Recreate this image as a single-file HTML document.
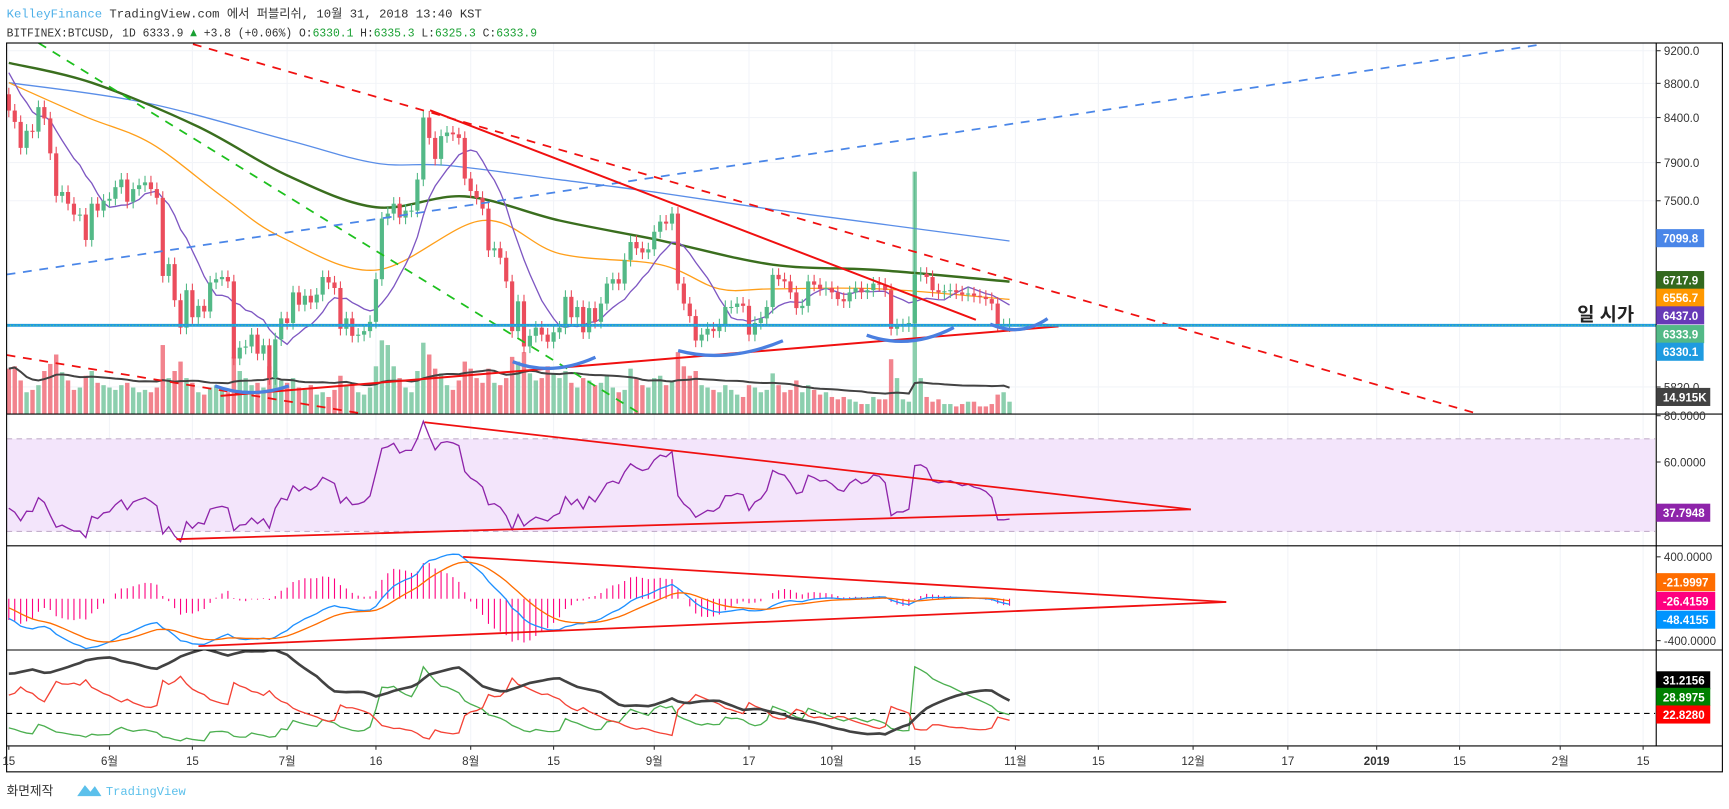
<!DOCTYPE html>
<html><head><meta charset="utf-8"><title>BTCUSD chart</title>
<style>
html,body{margin:0;padding:0;background:#fff;overflow:hidden}
svg{display:block}
text{font-family:"Liberation Sans","Noto Sans CJK KR",sans-serif}
.mono{font-family:"Liberation Mono","Noto Sans CJK KR",monospace}
</style></head>
<body>
<svg id="chart" xmlns="http://www.w3.org/2000/svg" width="1729" height="809" viewBox="0 0 1568 733.7" preserveAspectRatio="none">
<defs>
<clipPath id="cMain"><rect x="6" y="39" width="1496" height="336.5"/></clipPath>
<clipPath id="cRsi"><rect x="6" y="375.5" width="1496" height="119.5"/></clipPath>
<clipPath id="cMacd"><rect x="6" y="495" width="1496" height="94.5"/></clipPath>
<clipPath id="cDmi"><rect x="6" y="589.5" width="1496" height="87"/></clipPath>
</defs>
<g>
<text class="mono" x="6" y="16" font-size="11" textLength="431" lengthAdjust="spacingAndGlyphs" fill="#333"><tspan fill="#4fb0e8">KelleyFinance</tspan> TradingView.com 에서 퍼블리쉬, 10월 31, 2018 13:40 KST</text>
<text class="mono" x="6" y="33" font-size="11" textLength="481" lengthAdjust="spacingAndGlyphs" fill="#333">BITFINEX:BTCUSD, 1D 6333.9 <tspan fill="#1aa033">▲</tspan> +3.8 (+0.06%) O:<tspan fill="#1aa033">6330.1</tspan> H:<tspan fill="#1aa033">6335.3</tspan> L:<tspan fill="#1aa033">6325.3</tspan> C:<tspan fill="#1aa033">6333.9</tspan></text>
</g>
<g id="grid"></g>
<rect x="6" y="398" width="1495" height="84" fill="#f3e5fb"/>
<line x1="6" y1="398" x2="1501" y2="398" stroke="#c4b0cc" stroke-dasharray="5,4"/>
<line x1="6" y1="482" x2="1501" y2="482" stroke="#c4b0cc" stroke-dasharray="5,4"/>
<line x1="6" y1="647" x2="1501" y2="647" stroke="#000" stroke-dasharray="5,4"/>
<g id="vol" clip-path="url(#cMain)"></g>
<g id="mas" clip-path="url(#cMain)"></g>
<g id="candles" clip-path="url(#cMain)"></g>
<g id="drawings" clip-path="url(#cMain)">
<line x1="175" y1="40" x2="1360" y2="381" stroke="#f01010" stroke-width="1.6" stroke-dasharray="8,7"/>
<line x1="6" y1="322" x2="340" y2="377" stroke="#f01010" stroke-width="1.6" stroke-dasharray="8,7"/>
<line x1="35" y1="39" x2="582" y2="376" stroke="#1ec01e" stroke-width="1.6" stroke-dasharray="8,7"/>
<line x1="6" y1="249" x2="1400" y2="40" stroke="#4a86e8" stroke-width="1.6" stroke-dasharray="8,7"/>
<line x1="390" y1="100" x2="885" y2="290" stroke="#f01010" stroke-width="1.8"/>
<line x1="200" y1="359" x2="960" y2="296" stroke="#f01010" stroke-width="1.8"/>
<line x1="6" y1="295" x2="1502" y2="295" stroke="#1e9be0" stroke-width="2.6"/>
<line x1="6" y1="295" x2="1502" y2="295" stroke="#6fd06f" stroke-width="0.8" stroke-dasharray="1,2"/>
<path d="M195,350 Q227,362 262,350" fill="none" stroke="#4a7fe0" stroke-width="3"/>
<path d="M465,328 Q500,342 540,324" fill="none" stroke="#4a7fe0" stroke-width="3"/>
<path d="M615,318 Q660,330 710,309" fill="none" stroke="#4a7fe0" stroke-width="3"/>
<path d="M786,304 Q825,318 865,297" fill="none" stroke="#4a7fe0" stroke-width="3"/>
<path d="M898,294 Q925,306 950,289" fill="none" stroke="#4a7fe0" stroke-width="3"/>
</g>
<text x="1482" y="291" font-size="17" font-weight="bold" text-anchor="end" fill="#222">일 시가</text>
<g id="rsi" clip-path="url(#cRsi)"></g>
<line x1="385" y1="383" x2="1080" y2="462" stroke="#f01010" stroke-width="1.6"/>
<line x1="160" y1="489" x2="1080" y2="462" stroke="#f01010" stroke-width="1.6"/>
<g id="macd" clip-path="url(#cMacd)"></g>
<line x1="420" y1="505" x2="1112" y2="546" stroke="#f01010" stroke-width="1.6"/>
<line x1="180" y1="586" x2="1112" y2="546" stroke="#f01010" stroke-width="1.6"/>
<g id="dmi" clip-path="url(#cDmi)"></g>
<g fill="none" stroke="#000" stroke-width="1">
<rect x="6" y="39" width="1556" height="661"/>
<line x1="1502" y1="39" x2="1502" y2="676.5"/>
<line x1="6" y1="375.5" x2="1562" y2="375.5"/>
<line x1="6" y1="495" x2="1562" y2="495"/>
<line x1="6" y1="589.5" x2="1562" y2="589.5"/>
<line x1="6" y1="676.5" x2="1562" y2="676.5"/>
</g>
<g id="yaxis"></g>
<g id="xaxis"></g>
<g>
<text x="6" y="721" font-size="11.5" fill="#333">화면제작</text>
<path d="M70,722 L77,712 L82,718 L86,713 L92,722 Z" fill="#5bc0eb"/>
<text class="mono" x="96" y="721" font-size="11" fill="#5bc0eb">TradingView</text>
</g>
</svg>
<script>
const preCloses = [9280,8930,9350,9390,9240,9070,9220,9740,9700,9850,9650,9380,9190,9330,9010,8410,8480,8690,8670];
const closes = [
8480,8350,8060,8250,8240,8520,8390,8000,7550,7590,7470,7360,7360,7110,7470,7400,7500,
7520,7640,7720,7490,7620,7660,7690,7620,7530,6770,6880,6550,6310,6640,6400,6500,6450,6710,6740,6760,6720,6050,6140,6150,6250,6090,6160,5890,6210,6390,
6350,6620,6510,6590,6530,6600,6760,6710,6660,6300,6390,6240,6250,6280,6360,6740,7320,7370,7470,7330,7400,7400,7720,8400,8170,7940,8190,8230,8210,8170,7730,
7600,7530,7420,7010,7030,6940,6720,6280,6540,6150,6240,6310,6250,6190,6270,6310,6580,6400,6490,6270,6480,6360,6520,6700,6740,6700,6920,7090,7030,6990,7020,
7190,7290,7270,7370,6700,6520,6410,6200,6250,6300,6280,6330,6490,6490,6520,6500,6250,6350,6390,6490,6780,6740,6720,6620,6480,6500,6720,6690,6650,6660,
6620,6560,6540,6620,6660,6620,6640,6700,6690,6640,6300,6330,6330,6350,6780,6790,6760,6640,6620,6630,6640,6620,6600,6610,6590,6580,6560,6520,6330,6330,6333.9];
const volumes = [
38,40,28,18,20,24,36,42,50,35,28,20,22,32,36,26,24,
22,20,24,26,22,18,20,18,22,58,30,36,44,30,26,18,16,22,24,20,18,48,36,30,24,26,22,40,36,28,
26,30,22,20,24,16,18,14,20,32,24,26,18,16,22,40,62,58,40,30,22,18,36,60,50,38,34,24,20,28,44,
38,30,26,38,26,24,30,48,44,52,34,28,30,40,34,30,36,26,22,30,28,24,26,32,22,18,20,38,30,24,22,
30,32,24,28,52,40,32,36,24,22,20,18,24,20,16,14,24,22,18,20,34,24,18,20,28,18,24,20,16,18,
14,12,14,12,10,8,8,14,12,12,46,30,12,10,205,30,14,10,12,8,8,6,8,10,10,6,6,8,16,18,10];
const spikeHighIndex = [153];
const spikeHighValue = [7800];
const ma200Days = [0,23,47,62,74,93,110,129,147,169];
const ma200Vals = [8808,8572,8147,7894,7870,7718,7581,7411,7268,7100];
const ma100Days = [0,14,32,47,62,77,93,110,129,147,169];
const ma100Vals = [9049,8808,8295,7764,7434,7545,7301,7106,6875,6824,6718];
const ma50Days = [0,13,24,36,46,62,80,93,110,120,129,147,169];
const ma50Vals = [8808,8408,8110,7545,7138,6824,7301,6979,6875,6652,6652,6652,6557];
const priceTicks = [9200,8800,8400,7900,7500,5820];
const timeTickDays = [0,17,31,47,62,78,92,109,125,139,153,170,184,200,216,231,245,262,276];
const timeTickLabels = ["15","6월","15","7월","16","8월","15","9월","17","10월","15","11월","15","12월","17","2019","15","2월","15"];

const NS = "http://www.w3.org/2000/svg";
function mk(tag, attrs, parent){const e=document.createElementNS(NS,tag);for(const k in attrs)e.setAttribute(k,attrs[k]);parent.appendChild(e);return e;}
const xS = d => 8 + d*5.37;
const yMain = p => 46 + Math.log(9200/p)*666;
const yVol = v => 375 - v*1.07;
const yRsi = v => 377 + (80-v)*2.1;
const yMacd = v => 543 - v*0.095;
const yDmi = v => 647 - (v-20)*1.9;
const G = id => document.getElementById(id);
function smoothPath(pts){let d='M'+pts[0][0]+','+pts[0][1];
for(let i=0;i<pts.length-1;i++){const p0=pts[Math.max(0,i-1)],p1=pts[i],p2=pts[i+1],p3=pts[Math.min(pts.length-1,i+2)];
const c1=[p1[0]+(p2[0]-p0[0])/6,p1[1]+(p2[1]-p0[1])/6],c2=[p2[0]-(p3[0]-p1[0])/6,p2[1]-(p3[1]-p1[1])/6];
d+=' C'+c1[0]+','+c1[1]+' '+c2[0]+','+c2[1]+' '+p2[0]+','+p2[1];}return d;}

const n = closes.length;
const all=preCloses.concat(closes);
const allOpens=all.map((c,i)=>i===0?c:all[i-1]);
const allHighs=all.map((c,i)=>Math.max(c,allOpens[i])*1.009);
const allLows=all.map((c,i)=>Math.min(c,allOpens[i])*0.991);
const P0=preCloses.length;
spikeHighIndex.forEach((ix,k)=>{allHighs[ix+P0]=spikeHighValue[k];});
const opens=allOpens.slice(P0),highs=allHighs.slice(P0),lows=allLows.slice(P0);

// grid
const grid=G('grid');
priceTicks.forEach(p=>{const l=mk('line',{x1:6,x2:1502,y1:yMain(p),y2:yMain(p),stroke:'#f2f4f8'},grid);

});
timeTickDays.forEach(d=>{const l=mk('line',{x1:xS(d),x2:xS(d),y1:39,y2:676.5,stroke:'#f2f4f8'},grid);

});

// volume
const vg=G('vol');
volumes.forEach((v,i)=>{const up=closes[i]>=opens[i];
const r=mk('rect',{x:xS(i)-2,y:yVol(v),width:4,height:375-yVol(v),fill:up?'#8ccfae':'#f2848e'},vg);

});
function sma(arr,p){return arr.map((_,i)=>{const s=arr.slice(Math.max(0,i-p+1),i+1);return s.reduce((a,b)=>a+b,0)/s.length;});}
const volMa=sma(volumes,20);
const vm=mk('polyline',{points:volMa.map((v,i)=>xS(i)+','+yVol(v)).join(' '),fill:'none',stroke:'#424242','stroke-width':1.8},vg);



// MAs
const mg=G('mas');
function maLine(days,vals,color,w){return mk('path',{d:smoothPath(days.map((d,i)=>[xS(d),yMain(vals[i])])),fill:'none',stroke:color,'stroke-width':w},mg);}
const l200=maLine(ma200Days,ma200Vals,'#5a8ee8',1.2);


const l100=maLine(ma100Days,ma100Vals,'#3a6e1e',2.2);


const l50=maLine(ma50Days,ma50Vals,'#ff9f1a',1.2);


const ma10=closes.map((_,i)=>{const s=all.slice(i+P0-9,i+P0+1);return s.reduce((a,b)=>a+b,0)/10;});
const p10=mk('polyline',{points:ma10.map((v,i)=>xS(i)+','+yMain(v)).join(' '),fill:'none',stroke:'#7e57c2','stroke-width':1.2},mg);



// candles
const cg=G('candles');
closes.forEach((c,i)=>{const o=opens[i];const up=c>=o;const col=up?'#53b987':'#eb4d5c';const x=xS(i);
const w=mk('line',{x1:x,x2:x,y1:yMain(highs[i]),y2:yMain(lows[i]),stroke:col,'stroke-width':1},cg);


const top=yMain(Math.max(o,c)),bot=yMain(Math.min(o,c));
const b=mk('rect',{x:x-1.9,y:top,width:3.8,height:Math.max(1,bot-top),fill:col},cg);

});

// RSI
const rg=G('rsi');
const rsi=[];{let ag=0,al=0;const p=14;for(let i=1;i<all.length;i++){const ch=all[i]-all[i-1];const g=Math.max(ch,0),l=Math.max(-ch,0);
if(i<=p){ag+=g/p;al+=l/p;}else{ag=(ag*(p-1)+g)/p;al=(al*(p-1)+l)/p;}
if(i>=P0){rsi.push(al===0?100:100-100/(1+ag/al));}}}
const rl=mk('polyline',{points:rsi.map((v,i)=>xS(i)+','+yRsi(v)).join(' '),fill:'none',stroke:'#8e24aa','stroke-width':1.2},rg);



// MACD
const mcg=G('macd');
function ema(arr,p){const k=2/(p+1);const out=[];arr.forEach((v,i)=>out.push(i===0?v:v*k+out[i-1]*(1-k)));return out;}
const e12=ema(all,12),e26=ema(all,26);
const macdAll=e12.map((v,i)=>v-e26[i]);
const sigAll=ema(macdAll,9);
const macd=macdAll.slice(P0),sig=sigAll.slice(P0);
macd.forEach((m,i)=>{const h=m-sig[i];const hl=mk('line',{x1:xS(i),x2:xS(i),y1:543,y2:yMacd(h*2),stroke:'#ff0080','stroke-width':1},mcg);

});
const ml=mk('polyline',{points:macd.map((v,i)=>xS(i)+','+yMacd(v)).join(' '),fill:'none',stroke:'#1e90ff','stroke-width':1.2},mcg);


const sl=mk('polyline',{points:sig.map((v,i)=>xS(i)+','+yMacd(v)).join(' '),fill:'none',stroke:'#ff6d00','stroke-width':1.2},mcg);



// DMI (Wilder, proper warm-up over full history)
const dg=G('dmi');
const pdi=[],mdi=[],adx=[];{const p=14;let tr=0,pdm=0,mdm=0,ax=null,cnt=0;const dxBuf=[];
for(let i=1;i<all.length;i++){const t=Math.max(allHighs[i]-allLows[i],Math.abs(allHighs[i]-all[i-1]),Math.abs(allLows[i]-all[i-1]));
const up=allHighs[i]-allHighs[i-1],dn=allLows[i-1]-allLows[i];const pd=(up>dn&&up>0)?up:0,md=(dn>up&&dn>0)?dn:0;
cnt++;
if(cnt<=p){tr+=t;pdm+=pd;mdm+=md;}else{tr=tr-tr/p+t;pdm=pdm-pdm/p+pd;mdm=mdm-mdm/p+md;}
const P=100*pdm/tr,M=100*mdm/tr;const dx=100*Math.abs(P-M)/Math.max(P+M,1e-9);
if(ax===null){dxBuf.push(dx);if(dxBuf.length>=8)ax=dxBuf.reduce((a,b)=>a+b,0)/dxBuf.length;}else ax=(ax*(p-1)+dx)/p;
if(i>=P0){pdi.push(P);mdi.push(M);adx.push(ax===null?dx:ax);}}}
function dline(arr,col,w){return mk('polyline',{points:arr.map((v,i)=>xS(i)+','+yDmi(v)).join(' '),fill:'none',stroke:col,'stroke-width':w},dg);}
const dp=dline(pdi,'#4caf50',1.2);


const dm=dline(mdi,'#f44336',1.2);


const da=dline(adx,'#424242',2.4);



// price axis
const ya=G('yaxis');
function tick(y,label){mk('line',{x1:1502,x2:1506,y1:y,y2:y,stroke:'#333'},ya);
const t=mk('text',{x:1509,y:y+4,'font-size':10.5,fill:'#333'},ya);t.textContent=label;

}
priceTicks.forEach(p=>tick(yMain(p),p.toFixed(1)));
tick(377,'80.0000');tick(419,'60.0000');tick(505,'400.0000');tick(581,'-400.0000');
const boxLabels=['7099.8','6717.9','6556.7','6437.0','6333.9','6330.1','14.915K','37.7948','-21.9997','-26.4159','-48.4155','31.2156','28.8975','22.8280'];
const boxY=[216,254,270,286,303,319,360,465,528,545,562,617,632,648];
const boxCol=['#4a86e8','#33691e','#ff9800','#673ab7','#53b987','#1e9be0','#424242','#8e24aa','#ff6d00','#ff0080','#0094ff','#000000','#008000','#ff0000'];
const boxW=[43.5,43.5,43.5,43.5,43.5,43,49,49,53.5,53.5,53.5,49,49,49];
boxLabels.forEach((lb,i)=>{const r=mk('rect',{x:1502,y:boxY[i]-8.2,width:boxW[i],height:16.4,fill:boxCol[i]},ya);


const t=mk('text',{x:1508,y:boxY[i]+4,'font-size':10.5,'font-weight':'bold',fill:'#fff'},ya);t.textContent=lb;

});
// time axis
const xa=G('xaxis');
timeTickDays.forEach((d,i)=>{mk('line',{x1:xS(d),x2:xS(d),y1:676.5,y2:680,stroke:'#333'},xa);
const t=mk('text',{x:xS(d),y:694,'font-size':10.5,'text-anchor':'middle',fill:'#333','font-weight':timeTickLabels[i]==='2019'?'bold':'normal'},xa);
t.textContent=timeTickLabels[i];

});
</script>
</body></html>
